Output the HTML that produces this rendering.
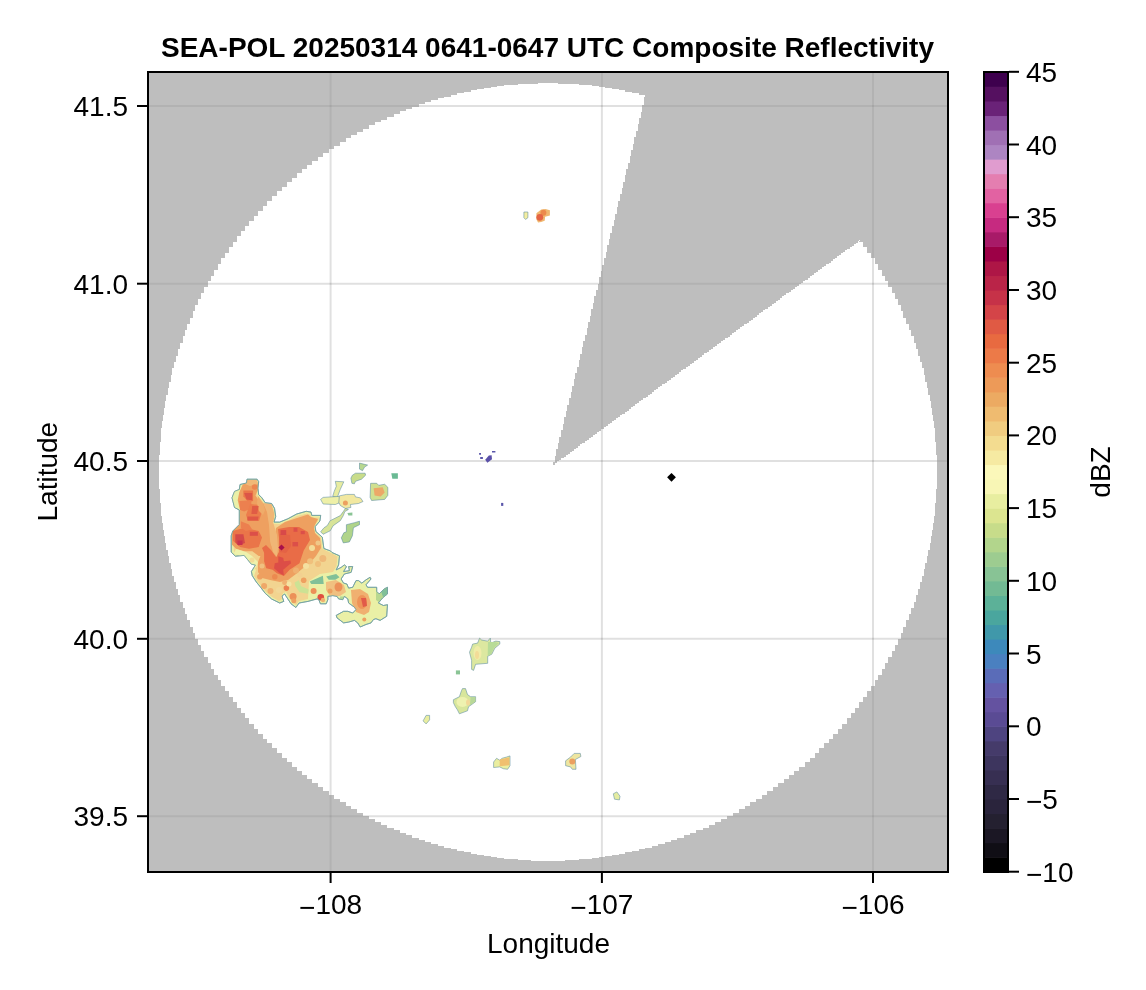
<!DOCTYPE html>
<html><head><meta charset="utf-8"><style>html,body{margin:0;padding:0;background:#fff;overflow:hidden}svg{display:block;will-change:transform}text{fill:#000}</style></head>
<body>
<svg width="1146" height="990" viewBox="0 0 1146 990">
<rect width="1146" height="990" fill="#fff"/>
<defs><clipPath id="ax"><rect x="149" y="73" width="798" height="798"/></clipPath></defs>
<g clip-path="url(#ax)">
<line x1="330.6" y1="73" x2="330.6" y2="871" stroke="#000" stroke-opacity="0.12" stroke-width="2"/>
<line x1="601.9" y1="73" x2="601.9" y2="871" stroke="#000" stroke-opacity="0.12" stroke-width="2"/>
<line x1="873.0" y1="73" x2="873.0" y2="871" stroke="#000" stroke-opacity="0.12" stroke-width="2"/>
<line x1="149" y1="106.0" x2="947" y2="106.0" stroke="#000" stroke-opacity="0.12" stroke-width="2"/>
<line x1="149" y1="283.7" x2="947" y2="283.7" stroke="#000" stroke-opacity="0.12" stroke-width="2"/>
<line x1="149" y1="461.0" x2="947" y2="461.0" stroke="#000" stroke-opacity="0.12" stroke-width="2"/>
<line x1="149" y1="638.8" x2="947" y2="638.8" stroke="#000" stroke-opacity="0.12" stroke-width="2"/>
<line x1="149" y1="816.2" x2="947" y2="816.2" stroke="#000" stroke-opacity="0.12" stroke-width="2"/>
<path fill-rule="evenodd" shape-rendering="crispEdges" d="M149,73 H947 V871 H149 Z M553.0,465.2 L553.0,462.0 L554.6,462.0 L554.6,455.6 L556.2,455.6 L556.2,449.3 L557.8,449.3 L557.8,442.9 L559.4,442.9 L559.4,436.5 L561.0,436.5 L561.0,430.2 L562.6,430.2 L562.6,423.8 L564.2,423.8 L564.2,417.4 L565.7,417.4 L565.7,411.0 L567.3,411.0 L567.3,404.7 L568.9,404.7 L568.9,398.3 L570.5,398.3 L570.5,391.9 L572.1,391.9 L572.1,385.6 L573.7,385.6 L573.7,379.2 L575.3,379.2 L575.3,372.8 L576.9,372.8 L576.9,366.5 L578.5,366.5 L578.5,360.1 L580.1,360.1 L580.1,353.7 L581.7,353.7 L581.7,347.3 L583.3,347.3 L583.3,341.0 L584.9,341.0 L584.9,334.6 L586.5,334.6 L586.5,328.2 L588.1,328.2 L588.1,321.9 L589.7,321.9 L589.7,315.5 L591.2,315.5 L591.2,309.1 L592.8,309.1 L592.8,302.7 L594.4,302.7 L594.4,296.4 L596.0,296.4 L596.0,290.0 L597.6,290.0 L597.6,283.6 L599.2,283.6 L599.2,277.3 L600.8,277.3 L600.8,270.9 L602.4,270.9 L602.4,264.5 L604.0,264.5 L604.0,258.2 L605.6,258.2 L605.6,251.8 L607.2,251.8 L607.2,245.4 L608.8,245.4 L608.8,239.0 L610.4,239.0 L610.4,232.7 L612.0,232.7 L612.0,226.3 L613.6,226.3 L613.6,219.9 L615.1,219.9 L615.1,213.6 L616.7,213.6 L616.7,207.2 L618.3,207.2 L618.3,200.8 L619.9,200.8 L619.9,194.4 L621.5,194.4 L621.5,188.1 L623.1,188.1 L623.1,181.7 L624.7,181.7 L624.7,175.3 L626.3,175.3 L626.3,169.0 L627.9,169.0 L627.9,162.6 L629.5,162.6 L629.5,156.2 L631.1,156.2 L631.1,149.9 L632.7,149.9 L632.7,143.5 L634.3,143.5 L634.3,137.1 L635.9,137.1 L635.9,130.7 L637.5,130.7 L637.5,124.4 L639.1,124.4 L639.1,118.0 L640.6,118.0 L640.6,111.6 L642.2,111.6 L642.2,105.3 L643.8,105.3 L643.8,98.9 L645.4,95.7 L645.1,95.7 L645.1,96.5 L645.1,94.8 L638.6,94.8 L638.6,93.2 L632.0,93.2 L632.0,91.8 L625.4,91.8 L625.4,90.4 L618.7,90.4 L618.7,89.2 L612.1,89.2 L612.1,88.1 L605.4,88.1 L605.4,87.1 L598.7,87.1 L598.7,86.2 L592.0,86.2 L592.0,85.4 L585.2,85.4 L585.2,84.8 L578.5,84.8 L578.5,84.2 L571.7,84.2 L571.7,83.8 L565.0,83.8 L565.0,83.5 L558.2,83.5 L558.2,83.3 L551.4,83.3 L544.6,83.3 L544.6,83.3 L537.8,83.3 L537.8,83.5 L531.0,83.5 L531.0,83.8 L524.3,83.8 L524.3,84.2 L517.5,84.2 L517.5,84.8 L510.8,84.8 L510.8,85.4 L504.0,85.4 L504.0,86.2 L497.3,86.2 L497.3,87.1 L490.6,87.1 L490.6,88.1 L483.9,88.1 L483.9,89.2 L477.3,89.2 L477.3,90.4 L470.6,90.4 L470.6,91.8 L464.0,91.8 L464.0,93.2 L457.4,93.2 L457.4,94.8 L450.9,94.8 L450.9,96.5 L444.3,96.5 L444.3,98.3 L437.8,98.3 L437.8,100.2 L431.4,100.2 L431.4,102.2 L425.0,102.2 L425.0,104.4 L418.6,104.4 L418.6,106.6 L412.2,106.6 L412.2,109.0 L405.9,109.0 L405.9,111.4 L399.7,111.4 L399.7,114.0 L393.5,114.0 L393.5,116.7 L387.3,116.7 L387.3,119.5 L381.2,119.5 L381.2,122.4 L375.1,122.4 L375.1,125.4 L369.1,125.4 L369.1,128.5 L363.2,128.5 L363.2,131.7 L357.3,131.7 L357.3,135.0 L351.4,135.0 L351.4,138.4 L345.6,138.4 L345.6,141.9 L339.9,141.9 L339.9,145.5 L334.3,145.5 L334.3,149.2 L328.7,149.2 L328.7,153.0 L323.2,153.0 L323.2,156.9 L317.7,156.9 L317.7,160.9 L312.3,160.9 L312.3,164.9 L307.0,164.9 L307.0,169.1 L301.8,169.1 L301.8,173.4 L296.6,173.4 L296.6,177.7 L291.5,177.7 L291.5,182.2 L286.5,182.2 L286.5,186.7 L281.5,186.7 L281.5,191.3 L276.7,191.3 L276.7,196.0 L271.9,196.0 L271.9,200.8 L267.2,200.8 L267.2,205.6 L262.6,205.6 L262.6,210.6 L258.1,210.6 L258.1,215.6 L253.6,215.6 L253.6,220.7 L249.3,220.7 L249.3,225.9 L245.0,225.9 L245.0,231.1 L240.8,231.1 L240.8,236.4 L236.8,236.4 L236.8,241.8 L232.8,241.8 L232.8,247.3 L228.9,247.3 L228.9,252.8 L225.1,252.8 L225.1,258.4 L221.4,258.4 L221.4,264.0 L217.8,264.0 L217.8,269.7 L214.3,269.7 L214.3,275.5 L210.9,275.5 L210.9,281.4 L207.6,281.4 L207.6,287.3 L204.4,287.3 L204.4,293.2 L201.3,293.2 L201.3,299.2 L198.3,299.2 L198.3,305.3 L195.4,305.3 L195.4,311.4 L192.6,311.4 L192.6,317.6 L189.9,317.6 L189.9,323.8 L187.3,323.8 L187.3,330.0 L184.9,330.0 L184.9,336.3 L182.5,336.3 L182.5,342.7 L180.3,342.7 L180.3,349.1 L178.1,349.1 L178.1,355.5 L176.1,355.5 L176.1,361.9 L174.2,361.9 L174.2,368.4 L172.4,368.4 L172.4,375.0 L170.7,375.0 L170.7,381.5 L169.1,381.5 L169.1,388.1 L167.7,388.1 L167.7,394.7 L166.3,394.7 L166.3,401.4 L165.1,401.4 L165.1,408.0 L164.0,408.0 L164.0,414.7 L163.0,414.7 L163.0,421.4 L162.1,421.4 L162.1,428.1 L161.3,428.1 L161.3,434.9 L160.7,434.9 L160.7,441.6 L160.1,441.6 L160.1,448.4 L159.7,448.4 L159.7,455.1 L159.4,455.1 L159.4,461.9 L159.2,461.9 L159.2,468.7 L159.2,468.7 L159.2,475.5 L159.2,482.3 L159.4,482.3 L159.4,489.1 L159.7,489.1 L159.7,495.8 L160.1,495.8 L160.1,502.6 L160.7,502.6 L160.7,509.3 L161.3,509.3 L161.3,516.1 L162.1,516.1 L162.1,522.8 L163.0,522.8 L163.0,529.5 L164.0,529.5 L164.0,536.2 L165.1,536.2 L165.1,542.8 L166.3,542.8 L166.3,549.5 L167.7,549.5 L167.7,556.1 L169.1,556.1 L169.1,562.7 L170.7,562.7 L170.7,569.2 L172.4,569.2 L172.4,575.8 L174.2,575.8 L174.2,582.3 L176.1,582.3 L176.1,588.7 L178.1,588.7 L178.1,595.1 L180.3,595.1 L180.3,601.5 L182.5,601.5 L182.5,607.9 L184.9,607.9 L184.9,614.2 L187.3,614.2 L187.3,620.4 L189.9,620.4 L189.9,626.6 L192.6,626.6 L192.6,632.8 L195.4,632.8 L195.4,638.9 L198.3,638.9 L198.3,645.0 L201.3,645.0 L201.3,651.0 L204.4,651.0 L204.4,656.9 L207.6,656.9 L207.6,662.8 L210.9,662.8 L210.9,668.7 L214.3,668.7 L214.3,674.5 L217.8,674.5 L217.8,680.2 L221.4,680.2 L221.4,685.8 L225.1,685.8 L225.1,691.4 L228.9,691.4 L228.9,696.9 L232.8,696.9 L232.8,702.4 L236.8,702.4 L236.8,707.8 L240.8,707.8 L240.8,713.1 L245.0,713.1 L245.0,718.3 L249.3,718.3 L249.3,723.5 L253.6,723.5 L253.6,728.6 L258.1,728.6 L258.1,733.6 L262.6,733.6 L262.6,738.6 L267.2,738.6 L267.2,743.4 L271.9,743.4 L271.9,748.2 L276.7,748.2 L276.7,752.9 L281.5,752.9 L281.5,757.5 L286.5,757.5 L286.5,762.0 L291.5,762.0 L291.5,766.5 L296.6,766.5 L296.6,770.8 L301.8,770.8 L301.8,775.1 L307.0,775.1 L307.0,779.3 L312.3,779.3 L312.3,783.3 L317.7,783.3 L317.7,787.3 L323.2,787.3 L323.2,791.2 L328.7,791.2 L328.7,795.0 L334.3,795.0 L334.3,798.7 L339.9,798.7 L339.9,802.3 L345.6,802.3 L345.6,805.8 L351.4,805.8 L351.4,809.2 L357.3,809.2 L357.3,812.5 L363.2,812.5 L363.2,815.7 L369.1,815.7 L369.1,818.8 L375.1,818.8 L375.1,821.8 L381.2,821.8 L381.2,824.7 L387.3,824.7 L387.3,827.5 L393.5,827.5 L393.5,830.2 L399.7,830.2 L399.7,832.8 L405.9,832.8 L405.9,835.2 L412.2,835.2 L412.2,837.6 L418.6,837.6 L418.6,839.8 L425.0,839.8 L425.0,842.0 L431.4,842.0 L431.4,844.0 L437.8,844.0 L437.8,845.9 L444.3,845.9 L444.3,847.7 L450.9,847.7 L450.9,849.4 L457.4,849.4 L457.4,851.0 L464.0,851.0 L464.0,852.4 L470.6,852.4 L470.6,853.8 L477.3,853.8 L477.3,855.0 L483.9,855.0 L483.9,856.1 L490.6,856.1 L490.6,857.1 L497.3,857.1 L497.3,858.0 L504.0,858.0 L504.0,858.8 L510.8,858.8 L510.8,859.4 L517.5,859.4 L517.5,860.0 L524.3,860.0 L524.3,860.4 L531.0,860.4 L531.0,860.7 L537.8,860.7 L537.8,860.9 L544.6,860.9 L551.4,860.9 L551.4,860.9 L558.2,860.9 L558.2,860.7 L565.0,860.7 L565.0,860.4 L571.7,860.4 L571.7,860.0 L578.5,860.0 L578.5,859.4 L585.2,859.4 L585.2,858.8 L592.0,858.8 L592.0,858.0 L598.7,858.0 L598.7,857.1 L605.4,857.1 L605.4,856.1 L612.1,856.1 L612.1,855.0 L618.7,855.0 L618.7,853.8 L625.4,853.8 L625.4,852.4 L632.0,852.4 L632.0,851.0 L638.6,851.0 L638.6,849.4 L645.1,849.4 L645.1,847.7 L651.7,847.7 L651.7,845.9 L658.2,845.9 L658.2,844.0 L664.6,844.0 L664.6,842.0 L671.0,842.0 L671.0,839.8 L677.4,839.8 L677.4,837.6 L683.8,837.6 L683.8,835.2 L690.1,835.2 L690.1,832.8 L696.3,832.8 L696.3,830.2 L702.5,830.2 L702.5,827.5 L708.7,827.5 L708.7,824.7 L714.8,824.7 L714.8,821.8 L720.9,821.8 L720.9,818.8 L726.9,818.8 L726.9,815.7 L732.8,815.7 L732.8,812.5 L738.7,812.5 L738.7,809.2 L744.6,809.2 L744.6,805.8 L750.4,805.8 L750.4,802.3 L756.1,802.3 L756.1,798.7 L761.7,798.7 L761.7,795.0 L767.3,795.0 L767.3,791.2 L772.8,791.2 L772.8,787.3 L778.3,787.3 L778.3,783.3 L783.7,783.3 L783.7,779.3 L789.0,779.3 L789.0,775.1 L794.2,775.1 L794.2,770.8 L799.4,770.8 L799.4,766.5 L804.5,766.5 L804.5,762.0 L809.5,762.0 L809.5,757.5 L814.5,757.5 L814.5,752.9 L819.3,752.9 L819.3,748.2 L824.1,748.2 L824.1,743.4 L828.8,743.4 L828.8,738.6 L833.4,738.6 L833.4,733.6 L837.9,733.6 L837.9,728.6 L842.4,728.6 L842.4,723.5 L846.7,723.5 L846.7,718.3 L851.0,718.3 L851.0,713.1 L855.2,713.1 L855.2,707.8 L859.2,707.8 L859.2,702.4 L863.2,702.4 L863.2,696.9 L867.1,696.9 L867.1,691.4 L870.9,691.4 L870.9,685.8 L874.6,685.8 L874.6,680.2 L878.2,680.2 L878.2,674.5 L881.7,674.5 L881.7,668.7 L885.1,668.7 L885.1,662.8 L888.4,662.8 L888.4,656.9 L891.6,656.9 L891.6,651.0 L894.7,651.0 L894.7,645.0 L897.7,645.0 L897.7,638.9 L900.6,638.9 L900.6,632.8 L903.4,632.8 L903.4,626.6 L906.1,626.6 L906.1,620.4 L908.7,620.4 L908.7,614.2 L911.1,614.2 L911.1,607.9 L913.5,607.9 L913.5,601.5 L915.7,601.5 L915.7,595.1 L917.9,595.1 L917.9,588.7 L919.9,588.7 L919.9,582.3 L921.8,582.3 L921.8,575.8 L923.6,575.8 L923.6,569.2 L925.3,569.2 L925.3,562.7 L926.9,562.7 L926.9,556.1 L928.3,556.1 L928.3,549.5 L929.7,549.5 L929.7,542.8 L930.9,542.8 L930.9,536.2 L932.0,536.2 L932.0,529.5 L933.0,529.5 L933.0,522.8 L933.9,522.8 L933.9,516.1 L934.7,516.1 L934.7,509.3 L935.3,509.3 L935.3,502.6 L935.9,502.6 L935.9,495.8 L936.3,495.8 L936.3,489.1 L936.6,489.1 L936.6,482.3 L936.8,482.3 L936.8,475.5 L936.8,468.7 L936.8,468.7 L936.8,461.9 L936.6,461.9 L936.6,455.1 L936.3,455.1 L936.3,448.4 L935.9,448.4 L935.9,441.6 L935.3,441.6 L935.3,434.9 L934.7,434.9 L934.7,428.1 L933.9,428.1 L933.9,421.4 L933.0,421.4 L933.0,414.7 L932.0,414.7 L932.0,408.0 L930.9,408.0 L930.9,401.4 L929.7,401.4 L929.7,394.7 L928.3,394.7 L928.3,388.1 L926.9,388.1 L926.9,381.5 L925.3,381.5 L925.3,375.0 L923.6,375.0 L923.6,368.4 L921.8,368.4 L921.8,361.9 L919.9,361.9 L919.9,355.5 L917.9,355.5 L917.9,349.1 L915.7,349.1 L915.7,342.7 L913.5,342.7 L913.5,336.3 L911.1,336.3 L911.1,330.0 L908.7,330.0 L908.7,323.8 L906.1,323.8 L906.1,317.6 L903.4,317.6 L903.4,311.4 L900.6,311.4 L900.6,305.3 L897.7,305.3 L897.7,299.2 L894.7,299.2 L894.7,293.2 L891.6,293.2 L891.6,287.3 L888.4,287.3 L888.4,281.4 L885.1,281.4 L885.1,275.5 L881.7,275.5 L881.7,269.7 L878.2,269.7 L878.2,264.0 L874.6,264.0 L874.6,258.4 L870.9,258.4 L870.9,252.8 L867.1,252.8 L867.1,247.3 L863.2,247.3 L863.2,241.8 L859.2,241.8 L859.2,240.1 L860.0,240.1 L860.0,240.1 L860.0,240.9 L857.9,240.9 L857.9,242.5 L855.8,242.5 L855.8,244.0 L853.7,244.0 L853.7,245.5 L851.6,245.5 L851.6,247.1 L849.5,247.1 L849.5,248.6 L847.4,248.6 L847.4,250.2 L845.3,250.2 L845.3,251.7 L843.2,251.7 L843.2,253.3 L841.1,253.3 L841.1,254.8 L839.0,254.8 L839.0,256.3 L836.9,256.3 L836.9,257.9 L834.8,257.9 L834.8,259.4 L832.7,259.4 L832.7,261.0 L830.6,261.0 L830.6,262.5 L828.5,262.5 L828.5,264.0 L826.4,264.0 L826.4,265.6 L824.3,265.6 L824.3,267.1 L822.2,267.1 L822.2,268.7 L820.1,268.7 L820.1,270.2 L818.0,270.2 L818.0,271.7 L815.9,271.7 L815.9,273.3 L813.8,273.3 L813.8,274.8 L811.7,274.8 L811.7,276.4 L809.6,276.4 L809.6,277.9 L807.5,277.9 L807.5,279.5 L805.4,279.5 L805.4,281.0 L803.3,281.0 L803.3,282.5 L801.1,282.5 L801.1,284.1 L799.0,284.1 L799.0,285.6 L796.9,285.6 L796.9,287.2 L794.8,287.2 L794.8,288.7 L792.7,288.7 L792.7,290.2 L790.6,290.2 L790.6,291.8 L788.5,291.8 L788.5,293.3 L786.4,293.3 L786.4,294.9 L784.3,294.9 L784.3,296.4 L782.2,296.4 L782.2,298.0 L780.1,298.0 L780.1,299.5 L778.0,299.5 L778.0,301.0 L775.9,301.0 L775.9,302.6 L773.8,302.6 L773.8,304.1 L771.7,304.1 L771.7,305.7 L769.6,305.7 L769.6,307.2 L767.5,307.2 L767.5,308.7 L765.4,308.7 L765.4,310.3 L763.3,310.3 L763.3,311.8 L761.2,311.8 L761.2,313.4 L759.1,313.4 L759.1,314.9 L757.0,314.9 L757.0,316.5 L754.9,316.5 L754.9,318.0 L752.8,318.0 L752.8,319.5 L750.7,319.5 L750.7,321.1 L748.6,321.1 L748.6,322.6 L746.5,322.6 L746.5,324.2 L744.4,324.2 L744.4,325.7 L742.3,325.7 L742.3,327.2 L740.2,327.2 L740.2,328.8 L738.1,328.8 L738.1,330.3 L736.0,330.3 L736.0,331.9 L733.9,331.9 L733.9,333.4 L731.8,333.4 L731.8,334.9 L729.6,334.9 L729.6,336.5 L727.5,336.5 L727.5,338.0 L725.4,338.0 L725.4,339.6 L723.3,339.6 L723.3,341.1 L721.2,341.1 L721.2,342.7 L719.1,342.7 L719.1,344.2 L717.0,344.2 L717.0,345.7 L714.9,345.7 L714.9,347.3 L712.8,347.3 L712.8,348.8 L710.7,348.8 L710.7,350.4 L708.6,350.4 L708.6,351.9 L706.5,351.9 L706.5,353.4 L704.4,353.4 L704.4,355.0 L702.3,355.0 L702.3,356.5 L700.2,356.5 L700.2,358.1 L698.1,358.1 L698.1,359.6 L696.0,359.6 L696.0,361.2 L693.9,361.2 L693.9,362.7 L691.8,362.7 L691.8,364.2 L689.7,364.2 L689.7,365.8 L687.6,365.8 L687.6,367.3 L685.5,367.3 L685.5,368.9 L683.4,368.9 L683.4,370.4 L681.3,370.4 L681.3,371.9 L679.2,371.9 L679.2,373.5 L677.1,373.5 L677.1,375.0 L675.0,375.0 L675.0,376.6 L672.9,376.6 L672.9,378.1 L670.8,378.1 L670.8,379.7 L668.7,379.7 L668.7,381.2 L666.6,381.2 L666.6,382.7 L664.5,382.7 L664.5,384.3 L662.4,384.3 L662.4,385.8 L660.3,385.8 L660.3,387.4 L658.1,387.4 L658.1,388.9 L656.0,388.9 L656.0,390.4 L653.9,390.4 L653.9,392.0 L651.8,392.0 L651.8,393.5 L649.7,393.5 L649.7,395.1 L647.6,395.1 L647.6,396.6 L645.5,396.6 L645.5,398.1 L643.4,398.1 L643.4,399.7 L641.3,399.7 L641.3,401.2 L639.2,401.2 L639.2,402.8 L637.1,402.8 L637.1,404.3 L635.0,404.3 L635.0,405.9 L632.9,405.9 L632.9,407.4 L630.8,407.4 L630.8,408.9 L628.7,408.9 L628.7,410.5 L626.6,410.5 L626.6,412.0 L624.5,412.0 L624.5,413.6 L622.4,413.6 L622.4,415.1 L620.3,415.1 L620.3,416.6 L618.2,416.6 L618.2,418.2 L616.1,418.2 L616.1,419.7 L614.0,419.7 L614.0,421.3 L611.9,421.3 L611.9,422.8 L609.8,422.8 L609.8,424.4 L607.7,424.4 L607.7,425.9 L605.6,425.9 L605.6,427.4 L603.5,427.4 L603.5,429.0 L601.4,429.0 L601.4,430.5 L599.3,430.5 L599.3,432.1 L597.2,432.1 L597.2,433.6 L595.1,433.6 L595.1,435.1 L593.0,435.1 L593.0,436.7 L590.9,436.7 L590.9,438.2 L588.8,438.2 L588.8,439.8 L586.6,439.8 L586.6,441.3 L584.5,441.3 L584.5,442.8 L582.4,442.8 L582.4,444.4 L580.3,444.4 L580.3,445.9 L578.2,445.9 L578.2,447.5 L576.1,447.5 L576.1,449.0 L574.0,449.0 L574.0,450.6 L571.9,450.6 L571.9,452.1 L569.8,452.1 L569.8,453.6 L567.7,453.6 L567.7,455.2 L565.6,455.2 L565.6,456.7 L563.5,456.7 L563.5,458.3 L561.4,458.3 L561.4,459.8 L559.3,459.8 L559.3,461.3 L557.2,461.3 L557.2,462.9 L555.1,462.9 L555.1,464.4 Z" fill="rgb(147,147,147)" fill-opacity="0.6"/>
<polygon points="247.0,479.2 257.1,479.2 258.7,481.7 257.9,488.1 258.7,494.6 261.9,497.8 265.2,502.7 271.6,503.5 274.5,508.3 275.7,516.4 274.1,522.1 279.7,522.1 287.8,518.8 296.7,514.0 306.2,511.3 311.0,512.1 311.8,515.4 320.7,515.4 319.9,521.0 315.1,526.7 315.9,531.5 322.3,537.2 323.9,548.5 330.4,550.9 332.0,552.5 339.5,555.8 338.6,564.9 336.2,569.9 341.1,567.4 344.4,564.9 346.5,566.6 343.6,571.5 349.4,570.7 348.6,566.6 352.7,566.6 351.1,572.4 344.4,574.0 341.1,579.0 343.6,583.1 346.9,584.0 348.6,588.1 352.7,587.3 356.0,580.6 358.5,580.6 361.8,583.1 366.0,579.8 370.1,577.3 371.0,579.0 366.0,584.8 367.6,587.3 376.7,587.3 376.7,591.4 379.2,593.9 384.2,588.9 387.5,587.3 387.5,593.9 382.5,598.0 378.4,603.0 383.4,605.5 387.5,604.7 386.7,616.3 380.1,620.4 375.9,618.7 373.4,619.6 371.0,622.9 366.0,624.5 360.2,627.0 357.7,622.9 354.4,620.4 348.6,622.1 343.6,622.9 337.0,617.9 336.2,615.4 343.6,611.3 347.8,611.3 352.7,613.0 356.0,609.6 354.4,607.2 348.6,603.0 347.8,598.9 344.4,596.4 342.8,599.7 338.6,598.9 337.0,596.4 332.8,595.6 327.9,596.4 327.9,599.7 326.2,603.8 320.4,603.8 318.8,599.7 317.1,598.9 308.0,601.4 299.1,603.0 295.9,607.5 291.0,603.8 284.6,594.0 282.0,596.0 283.8,601.4 279.7,603.0 271.6,599.0 265.2,593.3 260.3,586.9 256.3,582.0 252.2,575.6 251.4,571.5 255.5,565.0 251.4,564.2 247.4,559.4 244.2,555.4 235.3,556.2 231.2,552.1 231.2,535.8 232.8,531.0 239.3,524.5 239.3,510.0 234.5,507.5 232.0,497.8 234.5,491.4 239.3,489.5 240.0,484.5 246.5,483.0" fill="#eaf0a6" stroke="#6f9fa0" stroke-width="1" stroke-linejoin="round" stroke-opacity="0.75"/>
<defs><clipPath id="mc"><polygon points="247.0,479.2 257.1,479.2 258.7,481.7 257.9,488.1 258.7,494.6 261.9,497.8 265.2,502.7 271.6,503.5 274.5,508.3 275.7,516.4 274.1,522.1 279.7,522.1 287.8,518.8 296.7,514.0 306.2,511.3 311.0,512.1 311.8,515.4 320.7,515.4 319.9,521.0 315.1,526.7 315.9,531.5 322.3,537.2 323.9,548.5 330.4,550.9 332.0,552.5 339.5,555.8 338.6,564.9 336.2,569.9 341.1,567.4 344.4,564.9 346.5,566.6 343.6,571.5 349.4,570.7 348.6,566.6 352.7,566.6 351.1,572.4 344.4,574.0 341.1,579.0 343.6,583.1 346.9,584.0 348.6,588.1 352.7,587.3 356.0,580.6 358.5,580.6 361.8,583.1 366.0,579.8 370.1,577.3 371.0,579.0 366.0,584.8 367.6,587.3 376.7,587.3 376.7,591.4 379.2,593.9 384.2,588.9 387.5,587.3 387.5,593.9 382.5,598.0 378.4,603.0 383.4,605.5 387.5,604.7 386.7,616.3 380.1,620.4 375.9,618.7 373.4,619.6 371.0,622.9 366.0,624.5 360.2,627.0 357.7,622.9 354.4,620.4 348.6,622.1 343.6,622.9 337.0,617.9 336.2,615.4 343.6,611.3 347.8,611.3 352.7,613.0 356.0,609.6 354.4,607.2 348.6,603.0 347.8,598.9 344.4,596.4 342.8,599.7 338.6,598.9 337.0,596.4 332.8,595.6 327.9,596.4 327.9,599.7 326.2,603.8 320.4,603.8 318.8,599.7 317.1,598.9 308.0,601.4 299.1,603.0 295.9,607.5 291.0,603.8 284.6,594.0 282.0,596.0 283.8,601.4 279.7,603.0 271.6,599.0 265.2,593.3 260.3,586.9 256.3,582.0 252.2,575.6 251.4,571.5 255.5,565.0 251.4,564.2 247.4,559.4 244.2,555.4 235.3,556.2 231.2,552.1 231.2,535.8 232.8,531.0 239.3,524.5 239.3,510.0 234.5,507.5 232.0,497.8 234.5,491.4 239.3,489.5 240.0,484.5 246.5,483.0"/></clipPath><filter id="soft" x="-5%" y="-5%" width="110%" height="110%"><feGaussianBlur stdDeviation="0.7"/></filter></defs>
<g clip-path="url(#mc)"><g filter="url(#soft)">
<polygon points="248.0,481.5 256.5,481.5 256.5,489.0 257.5,495.5 264.5,503.5 271.0,505.0 273.5,509.0 274.0,516.5 272.5,523.5 280.0,524.0 288.0,520.5 297.0,516.0 307.0,513.5 311.0,515.0 311.5,517.5 319.0,517.5 318.0,521.0 313.5,526.5 314.5,532.0 321.0,537.5 322.5,549.0 330.0,552.5 337.5,556.5 336.5,566.0 333.0,572.0 320.0,574.0 309.0,581.0 308.0,599.0 299.0,601.0 296.0,605.0 292.0,602.0 286.0,592.0 283.0,593.0 282.0,599.0 279.0,601.0 272.0,597.0 266.0,592.0 262.0,587.0 258.0,582.0 254.0,576.0 256.0,570.0 253.0,566.0 248.0,560.0 240.0,555.0 234.0,552.0 233.0,536.0 240.0,526.0 241.0,509.0 236.0,506.0 234.5,498.0 236.0,492.0 241.0,490.0 242.0,485.0" fill="#f2d490"/>
<polygon points="232.5,492.0 239.0,488.5 241.0,492.0 240.5,500.0 241.0,509.0 234.5,507.5 232.0,498.0" fill="#eaf0a8"/>
<polygon points="247.4,480.9 257.1,480.9 258.7,488.1 255.5,495.4 258.7,500.3 267.0,506.0 271.0,515.0 270.0,522.0 270.0,533.0 271.0,545.0 272.0,556.0 258.7,556.0 252.3,551.2 244.2,551.2 236.1,548.8 232.0,544.7 232.0,531.0 239.3,524.5 240.1,510.0 237.7,500.3 239.3,492.2 242.6,484.9" fill="#eea060"/>
<polygon points="247.4,479.8 257.1,479.8 257.5,484.0 250.0,486.0 245.0,484.0" fill="#f0b878"/>
<circle cx="254.6" cy="487" r="2.8" fill="#ec8450"/>
<polygon points="276.0,528.0 285.0,522.0 297.0,518.0 308.0,514.5 311.0,517.0 318.0,519.0 314.0,527.0 315.0,533.0 320.0,538.0 321.0,548.0 316.0,556.0 310.0,563.0 302.0,569.0 296.0,574.0 288.0,580.0 280.0,582.0 270.0,580.0 262.0,578.0 258.0,572.0 258.0,562.0 262.0,552.0 270.0,548.0 275.0,538.0" fill="#eea060"/>
<polygon points="243.4,490.6 253.1,490.6 253.1,501.1 248.2,501.9 243.4,496.2" fill="#ea7448"/>
<polygon points="239.3,501.1 251.4,500.3 251.4,508.3 244.2,511.6 240.1,510.0" fill="#ec8050"/>
<polygon points="250.0,504.0 259.0,505.0 262.0,512.0 259.0,521.0 248.0,521.0 246.0,515.0" fill="#ec7c4c"/>
<polygon points="232.9,531.0 244.2,527.7 258.7,531.0 262.0,537.4 258.7,547.1 249.0,548.8 240.1,547.1 232.9,540.7" fill="#ea7448"/>
<polygon points="240.9,521.3 249.0,524.5 252.3,529.4 245.8,531.0 240.9,527.7" fill="#ec8050"/>
<polygon points="278.0,529.0 289.0,527.0 299.0,527.0 308.0,532.0 310.0,540.0 303.7,550.6 299.5,563.3 289.6,569.7 283.9,576.1 276.9,573.2 272.6,569.7 266.3,568.3 264.1,561.2 264.1,552.7 262.0,548.0 266.0,545.0 271.0,550.0 276.0,557.0 279.0,552.0 279.0,538.0" fill="#e96c46"/>
<polygon points="278.3,556.3 283.2,557.7 283.9,561.2 290.3,560.5 291.0,563.3 283.2,569.7 283.9,575.4 279.7,573.2 274.0,568.3 274.8,563.3 278.3,562.6" fill="#dc4e46"/>
<polygon points="279.7,534.0 290.0,535.0 291.0,546.0 286.0,553.0 280.0,552.0" fill="#e46244"/>
<polygon points="263.0,503.0 271.6,504.0 274.5,514.8 273.3,523.0 277.0,535.0 278.0,548.0 277.0,557.0 273.0,552.0 270.0,540.0 269.0,525.0 267.0,512.0" fill="#f0b676"/>
<polygon points="258.0,496.0 263.0,503.0 265.0,510.0 263.0,515.0 259.0,511.0 257.0,503.0" fill="#efac6a"/>
<polygon points="244.2,493.0 252.2,493.0 252.2,500.2 246.6,499.4" fill="#dc5446"/>
<polygon points="252.2,505.9 258.7,505.9 257.1,514.0 251.4,514.0" fill="#e05c44"/>
<polygon points="247.4,516.4 258.7,516.4 257.9,520.4 247.4,520.4" fill="#e05844"/>
<polygon points="235.3,534.2 243.4,534.2 245.0,543.1 238.5,545.5 235.3,542.3" fill="#d44848"/>
<polygon points="237.5,540.5 242.5,540.5 242.5,545.0 237.5,545.0" fill="#c83050"/>
<polygon points="249.8,531.8 257.9,531.8 257.9,535.8 249.8,535.8" fill="#dc5048"/>
<polygon points="280.5,530.1 286.2,530.1 286.2,535.0 280.5,535.0" fill="#d84848"/>
<polygon points="293.5,527.7 297.5,527.7 297.5,531.8 293.5,531.8" fill="#dc5048"/>
<polygon points="300.7,531.0 304.8,531.0 304.8,534.2 300.7,534.2" fill="#dc5048"/>
<polygon points="292.4,542.0 298.1,542.0 298.1,546.4 292.4,546.4" fill="#dc5048"/>
<polygon points="236.0,549.0 246.0,552.0 252.0,556.0 258.0,562.0 256.0,568.0 252.0,566.0 248.0,560.0 240.0,556.0 234.0,553.0" fill="#eef2ac"/>
<circle cx="259.9" cy="576.8" r="2.8" fill="#eea060"/>
<circle cx="274.8" cy="576.8" r="2.8" fill="#ec8a50"/>
<circle cx="264.1" cy="586" r="3" fill="#efa868"/>
<circle cx="270.5" cy="590.9" r="3" fill="#efb070"/>
<circle cx="284.7" cy="582.4" r="2.5" fill="#efb070"/>
<circle cx="286.4" cy="588.1" r="2.8" fill="#ec8050"/>
<circle cx="293.1" cy="596.6" r="3.5" fill="#ec9058"/>
<circle cx="293.8" cy="600.8" r="2.5" fill="#eea060"/>
<circle cx="303.7" cy="580.3" r="2.8" fill="#eea060"/>
<circle cx="313.6" cy="590.9" r="3" fill="#ec9058"/>
<circle cx="296" cy="570.4" r="3" fill="#efb070"/>
<circle cx="310.1" cy="561.2" r="3" fill="#f0c07c"/>
<circle cx="322.8" cy="558.4" r="3.5" fill="#efb878"/>
<circle cx="318" cy="564" r="3" fill="#f0c07c"/>
<polygon points="294.6,582.4 298.8,580.3 300.9,586.0 308.7,589.5 308.0,593.7 299.5,592.3 295.3,586.0" fill="#cce294"/>
<polygon points="309.7,581.5 322.9,575.7 323.7,584.0 311.3,584.0" fill="#80c098"/>
<polygon points="326.2,576.5 336.2,574.0 339.5,577.3 335.3,579.8 328.7,579.8" fill="#80c098"/>
<polygon points="326.0,582.0 336.0,580.0 344.0,585.0 346.0,592.0 340.0,596.0 330.0,596.0 326.0,590.0" fill="#f0c080"/>
<ellipse cx="338.5" cy="587" rx="4" ry="4.5" fill="#ec9058"/>
<circle cx="330" cy="591" r="2.5" fill="#eca060"/>
<ellipse cx="320.8" cy="597.3" rx="3.3" ry="3.3" fill="#e05040"/>
<circle cx="323" cy="600" r="2.2" fill="#f0b070"/>
<polygon points="351.0,590.0 360.0,589.0 368.0,594.0 371.0,603.0 369.0,612.0 364.0,615.0 356.0,612.0 352.0,603.0" fill="#f0b070"/>
<ellipse cx="362" cy="602" rx="5" ry="7" fill="#ee9458"/>
<polygon points="361.0,598.0 366.0,598.0 367.0,606.0 363.0,607.0" fill="#e25a48"/>
<polygon points="340.0,596.5 344.5,596.5 345.0,601.0 340.5,601.0" fill="#b0d894"/>
<circle cx="364.3" cy="619.6" r="2" fill="#eea060"/>
<polygon points="376.0,589.0 387.0,588.0 387.0,594.0 380.0,603.0 376.0,600.0" fill="#b8d890"/>
<polygon points="381.0,591.0 387.0,588.0 387.0,594.0 383.0,597.0" fill="#80c098"/>
<polygon points="332.8,607.2 338.6,607.2 338.6,609.6 336.2,611.3 332.8,611.3" fill="#e4eea0" stroke="#6f9fa0" stroke-width="1" stroke-linejoin="round" stroke-opacity="0.6"/>
<polygon points="371.8,627.0 375.9,627.0 375.9,630.3 371.8,630.3" fill="#a8d090"/>
<circle cx="312" cy="548" r="3" fill="#f4dc98"/>
<circle cx="318" cy="543" r="2.5" fill="#f0c888"/>
<circle cx="306" cy="566" r="3" fill="#f4e0a0"/>
<circle cx="300" cy="575" r="2.5" fill="#f2d090"/>
<circle cx="289" cy="584" r="2.5" fill="#f4e4a4"/>
<circle cx="279" cy="590" r="3" fill="#f2d898"/>
<circle cx="252" cy="560" r="2.5" fill="#f2dc98"/>
<circle cx="262" cy="566" r="2.5" fill="#f0c080"/>
</g></g>
<polygon points="281.5,544.4 284.6,547.4 281.5,550.4 278.4,547.4" fill="#a8104a"/>
<polygon points="247.0,479.2 257.1,479.2 258.7,481.7 257.9,488.1 258.7,494.6 261.9,497.8 265.2,502.7 271.6,503.5 274.5,508.3 275.7,516.4 274.1,522.1 279.7,522.1 287.8,518.8 296.7,514.0 306.2,511.3 311.0,512.1 311.8,515.4 320.7,515.4 319.9,521.0 315.1,526.7 315.9,531.5 322.3,537.2 323.9,548.5 330.4,550.9 332.0,552.5 339.5,555.8 338.6,564.9 336.2,569.9 341.1,567.4 344.4,564.9 346.5,566.6 343.6,571.5 349.4,570.7 348.6,566.6 352.7,566.6 351.1,572.4 344.4,574.0 341.1,579.0 343.6,583.1 346.9,584.0 348.6,588.1 352.7,587.3 356.0,580.6 358.5,580.6 361.8,583.1 366.0,579.8 370.1,577.3 371.0,579.0 366.0,584.8 367.6,587.3 376.7,587.3 376.7,591.4 379.2,593.9 384.2,588.9 387.5,587.3 387.5,593.9 382.5,598.0 378.4,603.0 383.4,605.5 387.5,604.7 386.7,616.3 380.1,620.4 375.9,618.7 373.4,619.6 371.0,622.9 366.0,624.5 360.2,627.0 357.7,622.9 354.4,620.4 348.6,622.1 343.6,622.9 337.0,617.9 336.2,615.4 343.6,611.3 347.8,611.3 352.7,613.0 356.0,609.6 354.4,607.2 348.6,603.0 347.8,598.9 344.4,596.4 342.8,599.7 338.6,598.9 337.0,596.4 332.8,595.6 327.9,596.4 327.9,599.7 326.2,603.8 320.4,603.8 318.8,599.7 317.1,598.9 308.0,601.4 299.1,603.0 295.9,607.5 291.0,603.8 284.6,594.0 282.0,596.0 283.8,601.4 279.7,603.0 271.6,599.0 265.2,593.3 260.3,586.9 256.3,582.0 252.2,575.6 251.4,571.5 255.5,565.0 251.4,564.2 247.4,559.4 244.2,555.4 235.3,556.2 231.2,552.1 231.2,535.8 232.8,531.0 239.3,524.5 239.3,510.0 234.5,507.5 232.0,497.8 234.5,491.4 239.3,489.5 240.0,484.5 246.5,483.0" fill="none" stroke="#6f9fa0" stroke-width="1" stroke-linejoin="round" stroke-opacity="0.75"/>
<polygon points="359.5,463.1 367.6,465.1 364.5,467.1 362.5,470.7 359.5,469.1" fill="#b8d890" stroke="#5a8aa0" stroke-width="1" stroke-linejoin="round" stroke-opacity="0.55"/>
<polygon points="352.4,475.2 355.5,473.2 365.1,473.2 365.6,475.2 361.5,479.2 355.5,481.3 354.4,483.8 351.9,483.3 350.9,478.2" fill="#c8dc8a" stroke="#5a8aa0" stroke-width="1" stroke-linejoin="round" stroke-opacity="0.55"/>
<polygon points="391.3,473.2 397.9,473.2 397.9,478.7 392.3,478.7" fill="#6aba94"/>
<polygon points="370.6,483.3 376.7,483.3 378.7,485.3 384.7,484.3 387.8,487.3 387.8,495.4 384.7,499.4 371.6,500.5 370.1,497.4" fill="#d0e090" stroke="#5a8aa0" stroke-width="1" stroke-linejoin="round" stroke-opacity="0.55"/>
<polygon points="373.6,488.3 382.7,487.3 384.7,492.4 380.7,496.4 374.6,495.4" fill="#eca868"/>
<polygon points="335.3,481.3 343.8,481.8 340.3,489.3 337.3,497.4 332.7,496.4 334.2,491.4 336.3,486.3" fill="#e8eca0" stroke="#5a8aa0" stroke-width="1" stroke-linejoin="round" stroke-opacity="0.55"/>
<polygon points="320.6,499.4 323.1,497.4 339.3,496.4 340.3,502.5 335.3,504.5 323.1,504.0" fill="#eef0a8" stroke="#5a8aa0" stroke-width="1" stroke-linejoin="round" stroke-opacity="0.55"/>
<polygon points="339.3,495.9 346.4,494.4 354.4,494.4 355.5,496.9 360.5,497.9 363.0,501.5 358.5,503.5 350.4,504.5 350.9,507.5 345.4,508.5 340.3,505.5 338.8,502.5" fill="#f2e8a0" stroke="#5a8aa0" stroke-width="1" stroke-linejoin="round" stroke-opacity="0.55"/>
<circle cx="345.4" cy="503" r="2.5" fill="#eca060"/>
<polygon points="345.4,508.5 343.3,511.6 340.3,515.6 330.2,520.7 327.2,525.7 324.1,527.7 320.6,531.8 323.1,534.3 330.2,530.8 333.2,525.7 340.3,520.7 343.3,515.6 344.8,511.6 348.4,509.5" fill="#d8e498" stroke="#5a8aa0" stroke-width="1" stroke-linejoin="round" stroke-opacity="0.55"/>
<polygon points="347.4,513.1 352.4,512.6 352.4,515.6 348.4,515.6" fill="#8ac495"/>
<polygon points="346.4,524.7 354.4,522.7 359.5,521.2 359.5,524.7 353.4,527.7 352.4,535.8 349.4,541.9 343.3,542.9 341.3,537.8 343.8,532.8 346.4,531.8" fill="#b0d48a" stroke="#5a8aa0" stroke-width="1" stroke-linejoin="round" stroke-opacity="0.55"/>
<polygon points="523.9,212.0 527.9,212.0 527.9,217.7 525.5,219.4 523.9,217.7" fill="#f4eea0" stroke="#5a8aa0" stroke-width="1" stroke-linejoin="round" stroke-opacity="0.55"/>
<polygon points="536.4,213.3 541.2,209.4 545.5,209.0 549.9,210.3 549.9,215.5 545.1,216.8 544.7,220.7 541.2,222.1 538.1,222.5 536.4,219.4" fill="#f0b870"/>
<circle cx="543.4" cy="212.8" r="3" fill="#ec8a4c"/>
<circle cx="539.8" cy="217.3" r="3.4" fill="#e46444"/>
<polygon points="485.2,459.7 488.9,455.5 491.6,455.2 492.0,459.3 487.4,462.7" fill="#5a50a8"/>
<polygon points="479.1,452.9 481.0,452.9 481.0,454.8 479.1,454.8" fill="#5a56aa"/>
<polygon points="480.2,457.0 482.9,457.0 482.9,459.0 480.2,459.0" fill="#5a56aa"/>
<polygon points="492.0,451.0 495.4,451.0 495.4,452.5 492.0,452.5" fill="#5a56aa"/>
<polygon points="501.1,502.9 503.3,502.9 503.3,505.9 501.1,505.9" fill="#5a56aa"/>
<polygon points="479.6,638.1 481.7,640.1 487.7,641.1 490.3,638.1 490.8,643.1 495.8,641.1 499.8,641.6 499.8,644.1 494.8,648.2 491.8,654.2 487.7,656.3 487.7,663.3 475.6,664.3 473.6,670.4 471.6,669.4 471.6,660.3 469.5,652.2 471.6,647.2 472.6,644.1 477.6,643.1" fill="#dce8a0" stroke="#5a8aa0" stroke-width="1" stroke-linejoin="round" stroke-opacity="0.55"/>
<polygon points="488.0,642.0 495.0,642.0 499.0,643.0 494.0,648.0 491.0,654.0 487.7,656.0" fill="#b8dc98"/>
<ellipse cx="477.5" cy="653" rx="4" ry="7" fill="#f0eca8"/>
<ellipse cx="477" cy="655" rx="2" ry="4" fill="#f2dc98"/>
<polygon points="455.9,670.4 460.0,670.4 460.0,674.4 455.9,674.4" fill="#8ac495"/>
<polygon points="462.5,688.6 465.5,688.6 467.5,694.6 470.6,696.7 475.6,696.7 475.6,701.7 468.5,706.8 467.5,710.8 459.4,713.8 457.4,709.8 455.4,706.8 453.4,702.7 453.4,699.7 459.4,696.7 461.5,690.6" fill="#d8e69c" stroke="#5a8aa0" stroke-width="1" stroke-linejoin="round" stroke-opacity="0.55"/>
<polygon points="470.6,697.0 475.4,697.0 475.4,701.5 470.0,705.0" fill="#b8d898"/>
<ellipse cx="462.5" cy="702" rx="6" ry="5" fill="#eef2b0"/>
<ellipse cx="468" cy="702.5" rx="2" ry="3" fill="#f2d898"/>
<polygon points="426.1,715.4 429.6,715.4 429.6,719.9 426.1,723.9 423.1,720.9" fill="#eaeea0" stroke="#5a8aa0" stroke-width="1" stroke-linejoin="round" stroke-opacity="0.55"/>
<polygon points="493.6,762.0 496.6,758.3 499.7,760.2 502.1,758.3 506.4,757.1 510.0,755.9 510.0,765.7 507.6,769.3 503.3,768.7 499.7,766.9 493.6,767.5" fill="#eaeea0" stroke="#5a8aa0" stroke-width="1" stroke-linejoin="round" stroke-opacity="0.55"/>
<polygon points="499.7,759.5 509.4,757.3 509.4,765.3 499.7,766.3" fill="#f0c070"/>
<polygon points="565.6,760.8 570.5,757.1 574.2,753.4 580.3,753.4 580.9,756.5 575.4,759.5 576.0,769.3 572.3,769.3 570.5,766.9 565.6,765.7" fill="#eee6a0" stroke="#5a8aa0" stroke-width="1" stroke-linejoin="round" stroke-opacity="0.55"/>
<ellipse cx="572.3" cy="761.5" rx="3" ry="3" fill="#eca060"/>
<polygon points="613.3,793.8 616.9,791.9 620.0,796.2 619.4,799.9 614.5,799.2" fill="#e4eca0" stroke="#5a8aa0" stroke-width="1" stroke-linejoin="round" stroke-opacity="0.55"/>
<polygon points="671.5,472.9 675.9,477.3 671.5,481.7 667.1,477.3" fill="#000"/>
</g>
<rect x="148" y="72" width="800" height="800" fill="none" stroke="#000" stroke-width="2"/>
<line x1="330.6" y1="873" x2="330.6" y2="883" stroke="#000" stroke-width="2"/>
<text x="330.6" y="914.1" font-family="Liberation Sans, sans-serif" font-size="28" text-anchor="middle"><tspan dy="3">−</tspan><tspan dy="-3">108</tspan></text>
<line x1="601.9" y1="873" x2="601.9" y2="883" stroke="#000" stroke-width="2"/>
<text x="601.9" y="914.1" font-family="Liberation Sans, sans-serif" font-size="28" text-anchor="middle"><tspan dy="3">−</tspan><tspan dy="-3">107</tspan></text>
<line x1="873.0" y1="873" x2="873.0" y2="883" stroke="#000" stroke-width="2"/>
<text x="873.0" y="914.1" font-family="Liberation Sans, sans-serif" font-size="28" text-anchor="middle"><tspan dy="3">−</tspan><tspan dy="-3">106</tspan></text>
<line x1="137" y1="106.0" x2="147" y2="106.0" stroke="#000" stroke-width="2"/>
<text x="128" y="116.0" font-family="Liberation Sans, sans-serif" font-size="28" text-anchor="end">41.5</text>
<line x1="137" y1="283.7" x2="147" y2="283.7" stroke="#000" stroke-width="2"/>
<text x="128" y="293.7" font-family="Liberation Sans, sans-serif" font-size="28" text-anchor="end">41.0</text>
<line x1="137" y1="461.0" x2="147" y2="461.0" stroke="#000" stroke-width="2"/>
<text x="128" y="471.0" font-family="Liberation Sans, sans-serif" font-size="28" text-anchor="end">40.5</text>
<line x1="137" y1="638.8" x2="147" y2="638.8" stroke="#000" stroke-width="2"/>
<text x="128" y="648.8" font-family="Liberation Sans, sans-serif" font-size="28" text-anchor="end">40.0</text>
<line x1="137" y1="816.2" x2="147" y2="816.2" stroke="#000" stroke-width="2"/>
<text x="128" y="826.2" font-family="Liberation Sans, sans-serif" font-size="28" text-anchor="end">39.5</text>
<text x="547.5" y="57.4" font-family="Liberation Sans, sans-serif" font-size="28" font-weight="bold" text-anchor="middle">SEA-POL 20250314 0641-0647 UTC Composite Reflectivity</text>
<text x="548.5" y="953.3" font-family="Liberation Sans, sans-serif" font-size="28" text-anchor="middle">Longitude</text>
<text transform="translate(57.1,471.7) rotate(-90)" font-family="Liberation Sans, sans-serif" font-size="28" text-anchor="middle">Latitude</text>
<text transform="translate(1110,472) rotate(-90)" font-family="Liberation Sans, sans-serif" font-size="28" text-anchor="middle">dBZ</text>
<rect x="984" y="857.16" width="24" height="15.14" fill="#000000"/>
<rect x="984" y="842.61" width="24" height="15.14" fill="#100e15"/>
<rect x="984" y="828.07" width="24" height="15.14" fill="#1b1724"/>
<rect x="984" y="813.53" width="24" height="15.14" fill="#242030"/>
<rect x="984" y="798.98" width="24" height="15.14" fill="#2a243c"/>
<rect x="984" y="784.44" width="24" height="15.14" fill="#2f2945"/>
<rect x="984" y="769.89" width="24" height="15.14" fill="#372f52"/>
<rect x="984" y="755.35" width="24" height="15.14" fill="#3d355e"/>
<rect x="984" y="740.81" width="24" height="15.14" fill="#453b6a"/>
<rect x="984" y="726.26" width="24" height="15.14" fill="#4e4480"/>
<rect x="984" y="711.72" width="24" height="15.14" fill="#5a4b94"/>
<rect x="984" y="697.18" width="24" height="15.14" fill="#6452a0"/>
<rect x="984" y="682.63" width="24" height="15.14" fill="#6560b0"/>
<rect x="984" y="668.09" width="24" height="15.14" fill="#5a6cb8"/>
<rect x="984" y="653.55" width="24" height="15.14" fill="#4a80c0"/>
<rect x="984" y="639.00" width="24" height="15.14" fill="#3d89bb"/>
<rect x="984" y="624.46" width="24" height="15.14" fill="#4098aa"/>
<rect x="984" y="609.91" width="24" height="15.14" fill="#4aa69e"/>
<rect x="984" y="595.37" width="24" height="15.14" fill="#5cb198"/>
<rect x="984" y="580.83" width="24" height="15.14" fill="#72ba94"/>
<rect x="984" y="566.28" width="24" height="15.14" fill="#88c395"/>
<rect x="984" y="551.74" width="24" height="15.14" fill="#9dcc90"/>
<rect x="984" y="537.20" width="24" height="15.14" fill="#b2d58c"/>
<rect x="984" y="522.65" width="24" height="15.14" fill="#c7dc8a"/>
<rect x="984" y="508.11" width="24" height="15.14" fill="#dce590"/>
<rect x="984" y="493.57" width="24" height="15.14" fill="#e8eea0"/>
<rect x="984" y="479.02" width="24" height="15.14" fill="#f8f6b5"/>
<rect x="984" y="464.48" width="24" height="15.14" fill="#fbf8ba"/>
<rect x="984" y="449.93" width="24" height="15.14" fill="#f6eaa2"/>
<rect x="984" y="435.39" width="24" height="15.14" fill="#f3dc90"/>
<rect x="984" y="420.85" width="24" height="15.14" fill="#f0cc80"/>
<rect x="984" y="406.30" width="24" height="15.14" fill="#efbb70"/>
<rect x="984" y="391.76" width="24" height="15.14" fill="#ecaa62"/>
<rect x="984" y="377.22" width="24" height="15.14" fill="#ed9a58"/>
<rect x="984" y="362.67" width="24" height="15.14" fill="#ee8c50"/>
<rect x="984" y="348.13" width="24" height="15.14" fill="#ec7a48"/>
<rect x="984" y="333.59" width="24" height="15.14" fill="#e86a40"/>
<rect x="984" y="319.04" width="24" height="15.14" fill="#e05a44"/>
<rect x="984" y="304.50" width="24" height="15.14" fill="#d44448"/>
<rect x="984" y="289.95" width="24" height="15.14" fill="#c63248"/>
<rect x="984" y="275.41" width="24" height="15.14" fill="#ba2448"/>
<rect x="984" y="260.87" width="24" height="15.14" fill="#ae1646"/>
<rect x="984" y="246.32" width="24" height="15.14" fill="#9c0046"/>
<rect x="984" y="231.78" width="24" height="15.14" fill="#a81a68"/>
<rect x="984" y="217.24" width="24" height="15.14" fill="#c62a80"/>
<rect x="984" y="202.69" width="24" height="15.14" fill="#d94090"/>
<rect x="984" y="188.15" width="24" height="15.14" fill="#e262a2"/>
<rect x="984" y="173.61" width="24" height="15.14" fill="#e47eb0"/>
<rect x="984" y="159.06" width="24" height="15.14" fill="#e09ccf"/>
<rect x="984" y="144.52" width="24" height="15.14" fill="#ad85c2"/>
<rect x="984" y="129.97" width="24" height="15.14" fill="#a070b4"/>
<rect x="984" y="115.43" width="24" height="15.14" fill="#8c4fa0"/>
<rect x="984" y="100.89" width="24" height="15.14" fill="#6a2278"/>
<rect x="984" y="86.34" width="24" height="15.14" fill="#551060"/>
<rect x="984" y="71.80" width="24" height="15.14" fill="#3e004e"/>
<rect x="984" y="72" width="24" height="800" fill="none" stroke="#000" stroke-width="2"/>
<line x1="1009" y1="871.7" x2="1019" y2="871.7" stroke="#000" stroke-width="2"/>
<text x="1026" y="881.7" font-family="Liberation Sans, sans-serif" font-size="28"><tspan dy="2.2">−</tspan><tspan dy="-2.2">10</tspan></text>
<line x1="1009" y1="799.0" x2="1019" y2="799.0" stroke="#000" stroke-width="2"/>
<text x="1026" y="809.0" font-family="Liberation Sans, sans-serif" font-size="28"><tspan dy="2.2">−</tspan><tspan dy="-2.2">5</tspan></text>
<line x1="1009" y1="726.3" x2="1019" y2="726.3" stroke="#000" stroke-width="2"/>
<text x="1026" y="736.3" font-family="Liberation Sans, sans-serif" font-size="28">0</text>
<line x1="1009" y1="653.5" x2="1019" y2="653.5" stroke="#000" stroke-width="2"/>
<text x="1026" y="663.5" font-family="Liberation Sans, sans-serif" font-size="28">5</text>
<line x1="1009" y1="580.8" x2="1019" y2="580.8" stroke="#000" stroke-width="2"/>
<text x="1026" y="590.8" font-family="Liberation Sans, sans-serif" font-size="28">10</text>
<line x1="1009" y1="508.1" x2="1019" y2="508.1" stroke="#000" stroke-width="2"/>
<text x="1026" y="518.1" font-family="Liberation Sans, sans-serif" font-size="28">15</text>
<line x1="1009" y1="435.4" x2="1019" y2="435.4" stroke="#000" stroke-width="2"/>
<text x="1026" y="445.4" font-family="Liberation Sans, sans-serif" font-size="28">20</text>
<line x1="1009" y1="362.7" x2="1019" y2="362.7" stroke="#000" stroke-width="2"/>
<text x="1026" y="372.7" font-family="Liberation Sans, sans-serif" font-size="28">25</text>
<line x1="1009" y1="290.0" x2="1019" y2="290.0" stroke="#000" stroke-width="2"/>
<text x="1026" y="300.0" font-family="Liberation Sans, sans-serif" font-size="28">30</text>
<line x1="1009" y1="217.2" x2="1019" y2="217.2" stroke="#000" stroke-width="2"/>
<text x="1026" y="227.2" font-family="Liberation Sans, sans-serif" font-size="28">35</text>
<line x1="1009" y1="144.5" x2="1019" y2="144.5" stroke="#000" stroke-width="2"/>
<text x="1026" y="154.5" font-family="Liberation Sans, sans-serif" font-size="28">40</text>
<line x1="1009" y1="71.8" x2="1019" y2="71.8" stroke="#000" stroke-width="2"/>
<text x="1026" y="81.8" font-family="Liberation Sans, sans-serif" font-size="28">45</text>
</svg>
</body></html>
